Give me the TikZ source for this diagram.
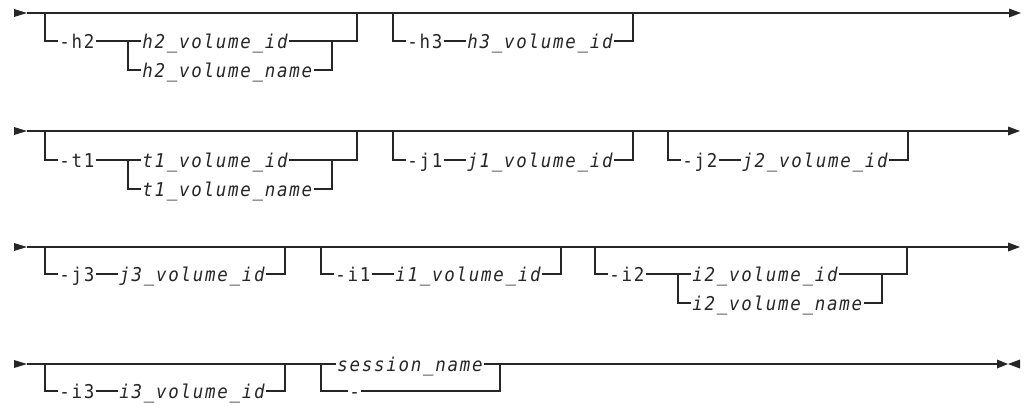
\documentclass[tikz,border=0pt]{standalone}
\usepackage{fontspec}
\newfontfamily\rrmono[LetterSpace=9.1,FakeStretch=0.92]{DejaVu Sans Mono}
\newcommand\rrsimple[6]{%
  \coordinate (#1L) at (#4,#2);
  \coordinate (#1R) at (#4+240,#2);
  \node[kw] (#1k) at (#4+13,#3) {#5};
  \node[var] (#1v) at (#4+73,#3) {#6};
  \draw[rail] (#1L) |- (#1k.west);
  \draw[rail] (#1k.east) -- (#1v.west);
  \draw[rail] (#1v.east) -| (#1R);
}
\newcommand\rrdouble[8]{%
  \coordinate (#1L) at (#5,#2);
  \coordinate (#1R) at (#5+312,#2);
  \coordinate (#1a) at (#5+83,#3);
  \coordinate (#1b) at (#5+287,#3);
  \node[kw] (#1k) at (#5+13,#3) {#6};
  \node[var] (#1v) at (#5+96,#3) {#7};
  \node[var] (#1w) at (#5+96,#4) {#8};
  \draw[rail] (#1L) |- (#1k.west);
  \draw[rail] (#1k.east) -- (#1a) |- (#1w.west);
  \draw[rail] (#1a) -- (#1v.west);
  \draw[rail] (#1v.east) -- (#1b) -| (#1R);
  \draw[rail] (#1w.east) -| (#1b);
}
\begin{document}
\begin{tikzpicture}[x=1pt,y=-1pt,
  rail/.style={draw=black!85, line width=1.1pt},
  kw/.style={inner xsep=1.2pt, inner ysep=0pt, text height=15pt, text depth=0pt,
    anchor=west, text=black!85, font=\rrmono\fontsize{19}{19}\selectfont},
  var/.style={kw, font=\rrmono\itshape\fontsize{19}{19}\selectfont},
  tip/.style={fill=black!85}]
\useasboundingbox (0,0) rectangle (1024,407);

% ---------- row 1 ----------
\coordinate (r1s) at (27,13);
\coordinate (r1e) at (1009,13);
\fill[tip] (14,9) -- (r1s) -- (14,17) -- cycle;
\draw[rail] (r1s) -- (r1e);
\fill[tip] (1009,8.5) -- (1021,13) -- (1009,17.5) -- cycle;
\rrdouble{h2}{13}{41}{70}{45}{-h2}{h2\_volume\_id}{h2\_volume\_name}
\rrsimple{h3}{13}{41}{393}{-h3}{h3\_volume\_id}

% ---------- row 2 ----------
\coordinate (r2s) at (27,131);
\coordinate (r2e) at (1008,131);
\fill[tip] (14,127) -- (r2s) -- (14,135) -- cycle;
\draw[rail] (r2s) -- (r2e);
\fill[tip] (1008,126.5) -- (1020,131) -- (1008,135.5) -- cycle;
\rrdouble{t1}{131}{160}{189}{45}{-t1}{t1\_volume\_id}{t1\_volume\_name}
\rrsimple{j1}{131}{160}{393}{-j1}{j1\_volume\_id}
\rrsimple{j2}{131}{160}{668}{-j2}{j2\_volume\_id}

% ---------- row 3 ----------
\coordinate (r3s) at (27,247);
\coordinate (r3e) at (1008,247);
\fill[tip] (14,243) -- (r3s) -- (14,251) -- cycle;
\draw[rail] (r3s) -- (r3e);
\fill[tip] (1008,242.5) -- (1020,247) -- (1008,251.5) -- cycle;
\rrsimple{j3}{247}{274}{45}{-j3}{j3\_volume\_id}
\rrsimple{i1}{247}{274}{321}{-i1}{i1\_volume\_id}
\rrdouble{i2}{247}{274}{303}{595}{-i2}{i2\_volume\_id}{i2\_volume\_name}

% ---------- row 4 ----------
\coordinate (r4s) at (27,364);
\coordinate (r4e) at (997,364);
\fill[tip] (14,360) -- (r4s) -- (14,368) -- cycle;
\rrsimple{i3}{364}{391}{45}{-i3}{i3\_volume\_id}
\coordinate (sL) at (321,364);
\coordinate (sR) at (500,364);
\coordinate (sb) at (500,391);
\node[var] (sn) at (336,364) {session\_name};
\node[kw] (sd) at (348,391) {-};
\draw[rail] (r4s) -- (sL) -- (sn.west);
\draw[rail] (sL) |- (sd.west);
\draw[rail] (sd.east) -- (sb) -- (sR);
\draw[rail] (sn.east) -- (sR) -- (r4e);
\draw[rail, line width=2pt] (507,364) -- (530,364);
\fill[tip] (997,359.5) -- (1008,364) -- (997,368.5) -- cycle;
\fill[tip] (1020,359.5) -- (1008,364) -- (1020,368.5) -- cycle;
\end{tikzpicture}
\end{document}
